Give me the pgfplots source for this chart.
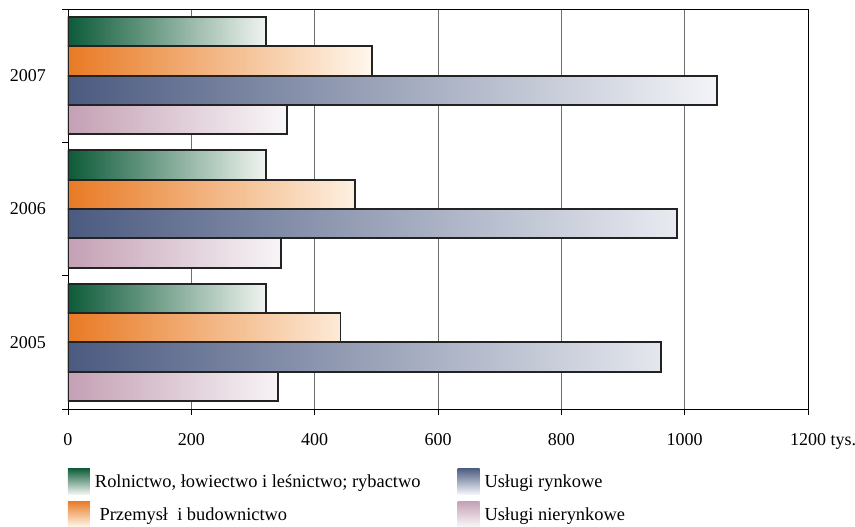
\documentclass[border=0pt]{standalone}
\usepackage{pgfplots}
\pgfplotsset{compat=1.18}
\usepackage{fontspec}
\setmainfont{Liberation Serif}
\definecolor{gA}{RGB}{12,90,56}
\definecolor{gB}{RGB}{240,244,240}
\definecolor{gM}{RGB}{118,152,132}
\definecolor{oA}{RGB}{232,122,36}
\definecolor{oB}{RGB}{255,247,236}
\definecolor{oM}{RGB}{240,170,116}
\definecolor{bA}{RGB}{75,90,128}
\definecolor{bB}{RGB}{243,244,248}
\definecolor{bM}{RGB}{122,132,166}
\definecolor{pA}{RGB}{196,160,180}
\definecolor{pB}{RGB}{249,247,249}
\definecolor{pM}{RGB}{222,200,212}
\definecolor{gridc}{RGB}{110,110,110}
\definecolor{edge}{RGB}{35,35,35}

\pgfplotstableread{
y green orange blue pink
0 321 442 962 341
1 321 465 987 345
2 321 493 1052 355
}\datatab

\pgfplotsset{
  barbox/.style={draw=none, forget plot, postaction={draw=edge, line width=1.8pt}},
  swatch/.style n args={3}{legend image code/.code={\shade[draw=none, top color=#1, middle color=#2, bottom color=#3] (0pt,-12pt) rectangle (22pt,14pt);}},
}

\begin{document}
\fontsize{18}{21}\selectfont
\begin{tikzpicture}
\begin{axis}[
  scale only axis,
  width=740pt, height=400pt,
  xmin=0, xmax=1200,
  ymin=-0.5, ymax=2.5,
  xbar,
  bar width=0.22,
  xtick={0,200,400,600,800,1000,1200},
  xticklabels={0,200,400,600,800,1000,1200\rlap{\ tys.}},
  xtick pos=bottom,
  ytick={-0.5,0.5,1.5,2.5},
  yticklabels={},
  ytick pos=left,
  extra y ticks={0,1,2},
  extra y tick labels={2005,2006,2007},
  extra y tick style={tick style={draw=none}, grid=none},
  tick align=outside,
  major tick length=6pt,
  tick style={black, line width=0.8pt},
  xmajorgrids,
  major x grid style={gridc, line width=0.9pt},
  axis line style={black, line width=0.9pt},
  /pgf/number format/assume math mode=true,
  tick label style={font=\fontsize{18}{21}\selectfont},
  xticklabel style={yshift=-12pt},
  yticklabel style={xshift=-10pt},
  legend columns=2,
  transpose legend,
  legend style={
    at={(0,-0.1475)}, anchor=north west,
    draw=none, fill=none, inner sep=0pt, outer sep=0pt,
    font=\fontsize{18.4}{21}\selectfont,
    nodes={inner sep=0pt},
    row sep=7pt,
    /tikz/every odd column/.append style={column sep=5pt},
    /tikz/column 2/.append style={column sep=37pt},
  },
  legend cell align=left,
]
\coordinate (O) at (rel axis cs:0,0);
\addplot[bar shift=0.33, barbox, left color=gA, middle color=gM, right color=gB] table[x=green, y=y] {\datatab};
\addplot[bar shift=0.11, barbox, left color=oA, middle color=oM, right color=oB] table[x=orange, y=y] {\datatab};
\addplot[bar shift=-0.11, barbox, left color=bA, middle color=bM, right color=bB] table[x=blue, y=y] {\datatab};
\addplot[bar shift=-0.33, barbox, left color=pA, middle color=pM, right color=pB] table[x=pink, y=y] {\datatab};
\addlegendimage{swatch={gA}{gM}{gB}}
\addlegendentry{Rolnictwo, łowiectwo i leśnictwo; rybactwo}
\addlegendimage{swatch={oA}{oM}{oB}}
\addlegendentry{\ Przemysł\ \ i budownictwo}
\addlegendimage{swatch={bA}{bM}{bB}}
\addlegendentry{Usługi rynkowe}
\addlegendimage{swatch={pA}{pM}{pB}}
\addlegendentry{Usługi nierynkowe}
\end{axis}
\pgfresetboundingbox
\path (O) ++(-68pt,-118pt) rectangle ++(855pt,527pt);
\end{tikzpicture}
\end{document}
